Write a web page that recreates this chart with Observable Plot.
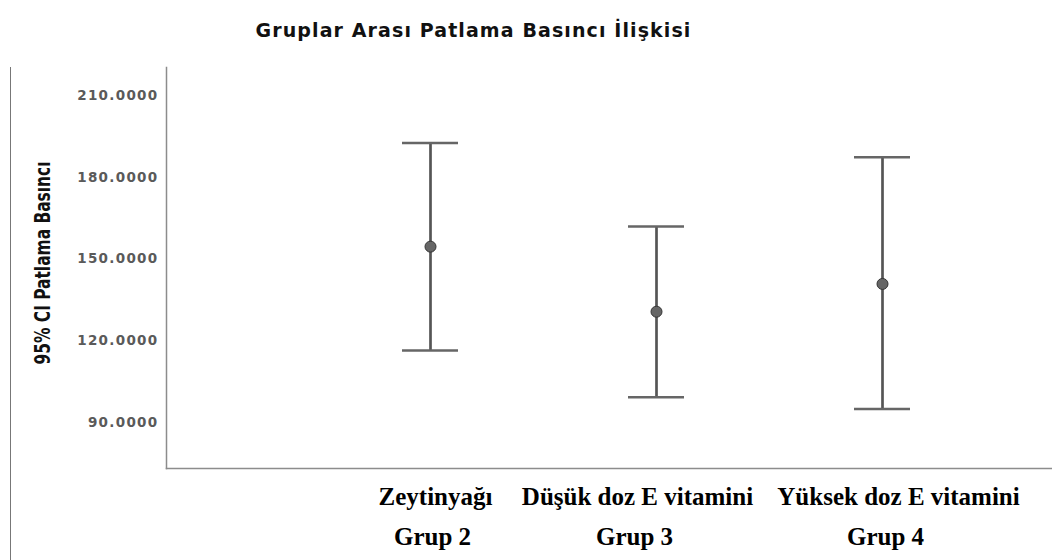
<!DOCTYPE html>
<html><head><meta charset="utf-8">
<script src="https://cdn.jsdelivr.net/npm/d3@7"></script>
<script src="https://cdn.jsdelivr.net/npm/@observablehq/plot@0.6"></script>
<style>
body{margin:0;background:#fff;}
#wrap{position:relative;width:1052px;height:560px;overflow:hidden;background:#fff;}
#title{position:absolute;left:0;top:21px;width:947px;text-align:center;font-family:"DejaVu Sans",sans-serif;font-weight:bold;font-size:19px;line-height:19px;letter-spacing:1.1px;color:#111;}
#border{position:absolute;left:10px;top:67px;width:0;height:493px;border-left:1.5px solid #777;}
#chart{position:absolute;left:0;top:60px;}
</style></head><body>
<div id="wrap"><div id="title">Gruplar Arası Patlama Basıncı İlişkisi</div><div id="border"></div><div id="chart"></div></div>
<script>
const groups = ["Grup 2", "Grup 3", "Grup 4"];
const treatments = ["Zeytinyağı", "Düşük doz E vitamini", "Yüksek doz E vitamini"];
const means = [154.5, 130.6, 140.8];
const lower = [116.3, 99.2, 94.9];
const upper = [192.6, 161.9, 187.3];
const yTicks = [90, 120, 150, 180, 210];
const yLabel = "95% CI Patlama Basıncı";

// layout: horizontal nudges of the two label lines (px), as in the original figure
const nameNudge = [5, -19, 16];
const groupNudge = [2, -22, 3];

const data = groups.map((g, i) => ({group: g, treatment: treatments[i], mean: means[i], lo: lower[i], hi: upper[i]}));
const frameStyle = {stroke: "#8c8c8c", strokeWidth: 1.5};
const labelFont = {fontSize: 25, fontWeight: "bold", fontFamily: "Liberation Serif, Times New Roman, serif", fill: "#000", tickSize: 0, label: null};

const plot = Plot.plot({
  width: 1052, height: 500,
  marginTop: 7, marginBottom: 92, marginLeft: 166, marginRight: 0,
  style: {background: "transparent", overflow: "visible"},
  x: {type: "band", domain: groups, paddingInner: 0.753, paddingOuter: 0, insetLeft: 235, insetRight: 141, axis: null},
  y: {domain: [73, 220.3], axis: null},
  marks: [
    Plot.frame({anchor: "left", ...frameStyle}),
    Plot.frame({anchor: "bottom", ...frameStyle}),
    Plot.axisY({ticks: yTicks, tickSize: 0, tickPadding: 8, tickFormat: d3.format(".4f"),
      label: yLabel, labelAnchor: "center", labelOffset: 132, labelArrow: "none",
      fontSize: 13.5, fill: "#5a5a5a"}),
    Plot.axisX({...labelFont, tickPadding: 19, tickFormat: d => treatments[groups.indexOf(d)]}),
    Plot.axisX({...labelFont, tickPadding: 59, tickFormat: d => d}),
    Plot.ruleX(data, {x: "group", y1: "lo", y2: "hi", stroke: "#555", strokeWidth: 2.7}),
    Plot.tickY(data, {x: "group", y: "lo", stroke: "#666", strokeWidth: 2.5}),
    Plot.tickY(data, {x: "group", y: "hi", stroke: "#666", strokeWidth: 2.5}),
    Plot.dot(data, {x: "group", y: "mean", r: 5.5, fill: "#666", stroke: "#333", strokeWidth: 1})
  ]
});
document.getElementById("chart").appendChild(plot);

const svg = d3.select(plot);
svg.selectAll('[aria-label="y-axis tick label"] text')
  .style("letter-spacing", "1.3px").style("font-weight", "bold")
  .style("font-family", "DejaVu Sans, sans-serif");
svg.selectAll('[aria-label="y-axis label"] text')
  .attr("textLength", 203).attr("lengthAdjust", "spacingAndGlyphs").attr("dx", 5)
  .style("font-family", "Liberation Sans Narrow, DejaVu Sans Condensed, Liberation Sans, sans-serif")
  .style("font-weight", "bold").style("font-size", "22px").attr("fill", "#111");
svg.selectAll('[aria-label="x-axis tick label"]').each(function(_, gi) {
  const nudges = gi === 0 ? nameNudge : groupNudge;
  d3.select(this).selectAll("text").attr("dx", (_, i) => nudges[i]);
});
</script>
</body></html>
